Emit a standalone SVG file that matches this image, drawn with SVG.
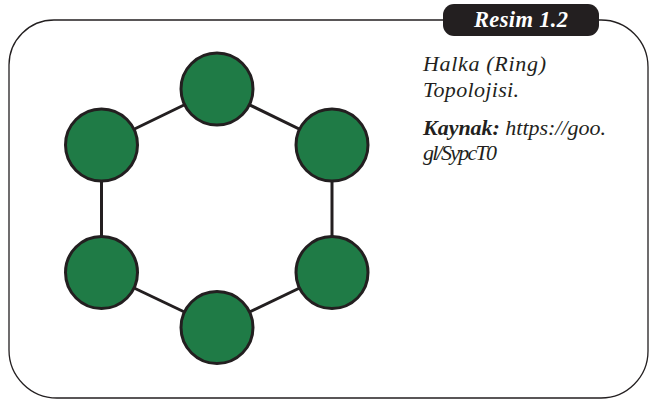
<svg xmlns="http://www.w3.org/2000/svg" width="656" height="402" viewBox="0 0 656 402">
  <style>
    .frame { fill: none; stroke: #231f20; stroke-width: 1.3; }
    .link { stroke: #231f20; stroke-width: 3; }
    .node { fill: #1f7b46; stroke: #231f20; stroke-width: 3; }
    .cap { font-family: "Liberation Serif", serif; font-style: italic; font-size: 22px; fill: #231f20; }
    .tab-label { font-family: "Liberation Serif", serif; font-style: italic; font-weight: bold; font-size: 22.5px; fill: #ffffff; }
  </style>

  <!-- rounded frame, open at the top where the tab sits -->
  <path class="frame" d="M443 20 H54 A45 45 0 0 0 9 65 V350 A48 48 0 0 0 57 398 H601 A47 47 0 0 0 648 351 V67 A47 47 0 0 0 601 20 H599"/>

  <!-- caption tab -->
  <g id="tab">
    <rect x="443" y="4" width="156" height="32" rx="11" fill="#231f20"/>
    <text class="tab-label" x="474" y="27" textLength="94">Resim 1.2</text>
  </g>

  <!-- ring connections -->
  <g id="connectors">
    <line class="link" x1="217" y1="89" x2="332" y2="145"/>
    <line class="link" x1="332" y1="145" x2="332" y2="272.5"/>
    <line class="link" x1="332" y1="272.5" x2="217" y2="327.5"/>
    <line class="link" x1="217" y1="327.5" x2="101.5" y2="272.5"/>
    <line class="link" x1="101.5" y1="272.5" x2="101.5" y2="145"/>
    <line class="link" x1="101.5" y1="145" x2="217" y2="89"/>
  </g>

  <g id="node-top"><circle class="node" cx="217" cy="89" r="36"/></g>
  <g id="node-upper-right"><circle class="node" cx="332" cy="145" r="36"/></g>
  <g id="node-lower-right"><circle class="node" cx="332" cy="272.5" r="36"/></g>
  <g id="node-bottom"><circle class="node" cx="217" cy="327.5" r="36"/></g>
  <g id="node-lower-left"><circle class="node" cx="101.5" cy="272.5" r="36"/></g>
  <g id="node-upper-left"><circle class="node" cx="101.5" cy="145" r="36"/></g>

  <!-- caption text -->
  <g id="caption">
    <text class="cap" x="423" y="71" textLength="123">Halka (Ring)</text>
    <text class="cap" x="423" y="97" textLength="96">Topolojisi.</text>
    <text class="cap" x="423" y="135" textLength="183"><tspan font-weight="bold">Kaynak:</tspan> https://goo.</text>
    <text class="cap" x="423" y="160" textLength="74">gl/SypcT0</text>
  </g>
</svg>
